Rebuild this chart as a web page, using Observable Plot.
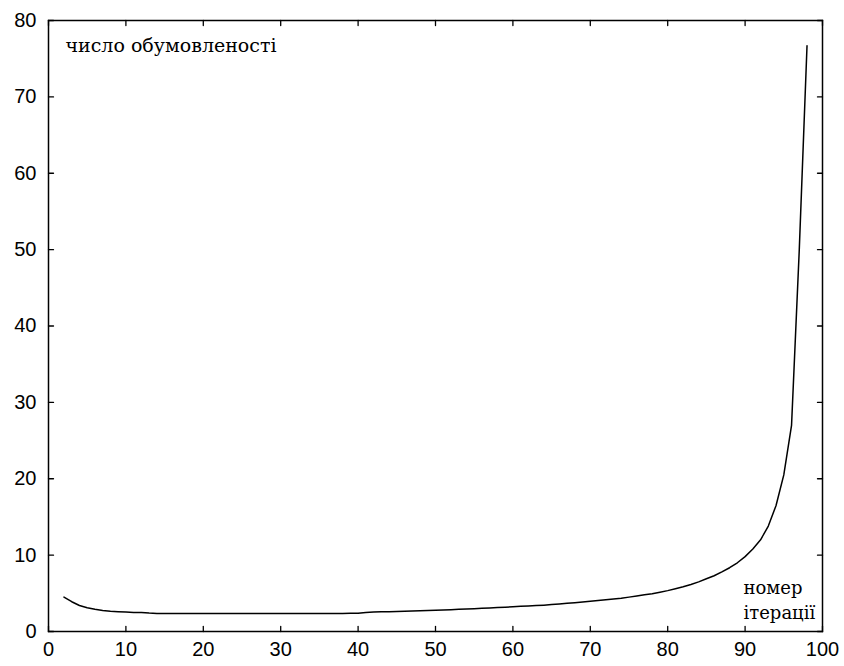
<!DOCTYPE html>
<html><head><meta charset="utf-8">
<script src="https://cdn.jsdelivr.net/npm/d3@7"></script>
<script src="https://cdn.jsdelivr.net/npm/@observablehq/plot@0.6"></script>
<style>body{margin:0;background:#fff}</style>
</head><body><div id="chart"></div>
<script>
const iterations = [
  2,3,4,5,6,7,8,9,10,11,12,13,14,15,16,17,18,19,20,
  21,22,23,24,25,26,27,28,29,30,31,32,33,34,35,36,37,38,39,40,
  41,42,43,44,45,46,47,48,49,50,51,52,53,54,55,56,57,58,59,60,
  61,62,63,64,65,66,67,68,69,70,71,72,73,74,75,76,77,78,79,80,
  81,82,83,84,85,86,87,88,89,90,91,92,93,94,95,96,97,98
];
const conditionNumber = [
  4.5,3.9,3.4,3.1,2.9,2.75,2.65,2.6,2.55,2.5,2.5,2.42,2.37,2.35,2.35,2.35,2.35,2.35,2.35,
  2.35,2.35,2.35,2.35,2.35,2.35,2.35,2.35,2.35,2.36,2.36,2.36,2.36,2.36,2.37,2.37,2.37,2.37,2.38,2.4,
  2.5,2.55,2.58,2.6,2.63,2.66,2.69,2.72,2.75,2.78,2.82,2.86,2.9,2.94,2.98,3.03,3.08,3.13,3.18,3.24,
  3.3,3.35,3.4,3.45,3.52,3.6,3.7,3.78,3.86,3.95,4.05,4.15,4.25,4.35,4.5,4.65,4.8,4.95,5.15,5.35,
  5.6,5.85,6.15,6.5,6.9,7.3,7.8,8.35,9.0,9.8,10.8,12.0,13.8,16.5,20.5,27,50,76.7
];
const xTicks = [0,10,20,30,40,50,60,70,80,90,100];
const yTicks = [0,10,20,30,40,50,60,70,80];
const yLabel = "число обумовленості";
const xLabel = ["номер", "ітерації"];

const data = iterations.map((x, i) => ({x, y: conditionNumber[i]}));

// straight line tick shape for vector marks
const tickShape = {draw(context, l) { context.moveTo(0, 0); context.lineTo(0, -l); }};
const tickOpts = {length: 5, anchor: "start", shape: tickShape, stroke: "#000", strokeWidth: 1.3};
const textStyle = {tickSize: 0, stroke: "none", fill: "#000", label: null};

const chart = Plot.plot({
  width: 844,
  height: 666,
  marginLeft: 48,
  marginRight: 22,
  marginTop: 20,
  marginBottom: 35,
  style: {fontFamily: "'Liberation Sans', Arial, sans-serif", fontSize: "20px", color: "#000", background: "#fff"},
  x: {domain: [0, 100]},
  y: {domain: [0, 80]},
  marks: [
    Plot.frame({stroke: "#000", strokeWidth: 1.5}),
    Plot.vector(xTicks, {x: d => d, frameAnchor: "bottom", rotate: 0, ...tickOpts}),
    Plot.vector(xTicks, {x: d => d, frameAnchor: "top", rotate: 180, ...tickOpts}),
    Plot.vector(yTicks, {y: d => d, frameAnchor: "left", rotate: 90, ...tickOpts}),
    Plot.vector(yTicks, {y: d => d, frameAnchor: "right", rotate: -90, ...tickOpts}),
    Plot.axisX(xTicks, {anchor: "bottom", tickPadding: 10, ...textStyle}),
    Plot.axisY(yTicks, {anchor: "left", tickPadding: 12, ...textStyle}),
    Plot.line(data, {x: "x", y: "y", stroke: "#000", strokeWidth: 1.5}),
    Plot.text([yLabel], {
      text: d => d, frameAnchor: "top-left", dx: 17, dy: 18,
      textAnchor: "start", lineAnchor: "top",
      fontFamily: "'DejaVu Serif', serif", fontSize: 19, fill: "#000"
    }),
    Plot.text([xLabel.join("\n")], {
      text: d => d, frameAnchor: "bottom-right", dx: -79, dy: -13,
      textAnchor: "start", lineAnchor: "bottom", lineHeight: 1.35,
      fontFamily: "'DejaVu Serif', serif", fontSize: 18, fill: "#000"
    })
  ]
});
document.getElementById("chart").appendChild(chart);
</script>
</body></html>
